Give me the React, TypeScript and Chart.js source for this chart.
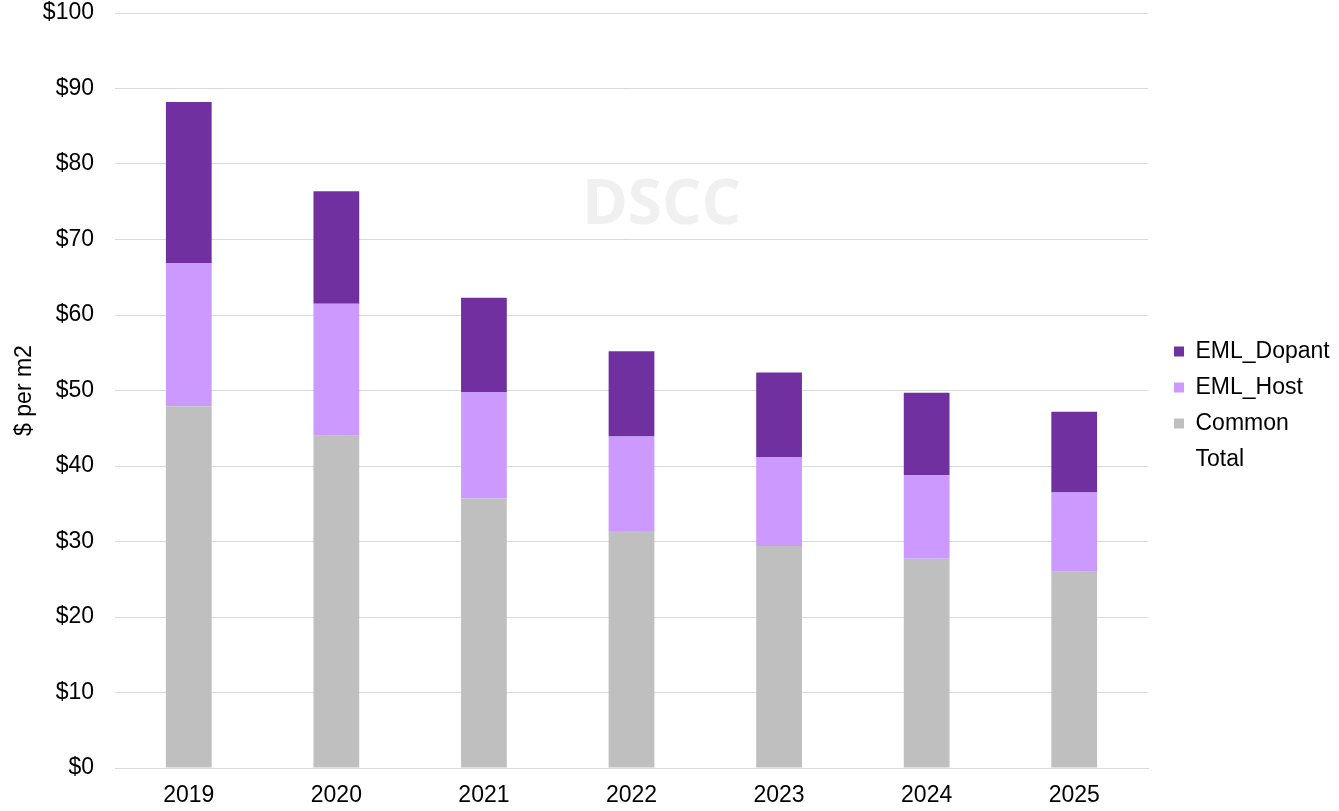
import React, { useEffect, useRef } from "react";
import { Chart, registerables } from "chart.js";

Chart.register(...registerables);

const years = ["2019", "2020", "2021", "2022", "2023", "2024", "2025"];
const common = [47.9, 44.0, 35.7, 31.4, 29.4, 27.7, 26.0];
const emlHost = [19.0, 17.5, 14.1, 12.5, 11.8, 11.1, 10.5];
const emlDopant = [21.3, 14.9, 12.5, 11.3, 11.2, 10.9, 10.7];
const total = [88.2, 76.4, 62.3, 55.2, 52.4, 49.7, 47.2];

const FONT = "'Liberation Sans', Arial, sans-serif";
const FS = 23;
const LEGEND_WIDTH = 191;
const LEGEND_SHIFT = 13;

const watermark = {
  id: "watermark",
  beforeDatasetsDraw(chart: any) {
    const { ctx, chartArea } = chart;
    ctx.save();
    ctx.font = "bold 62px 'Open Sans', 'Noto Sans', sans-serif";
    ctx.fillStyle = "#f0f0f0";
    ctx.textAlign = "center";
    ctx.textBaseline = "middle";
    ctx.fillText("DSCC", (chartArea.left + chartArea.right) / 2 + 30, 206);
    ctx.restore();
  },
};

const legendFit = {
  id: "legendFit",
  beforeLayout(chart: any) {
    const lg = chart.legend;
    if (lg && !lg.__patched) {
      const orig = lg.fit.bind(lg);
      lg.fit = function () {
        orig();
        this.width = LEGEND_WIDTH;
      };
      lg.__patched = true;
    }
  },
  afterLayout(chart: any) {
    const lg = chart.legend;
    if (lg) {
      lg.left += LEGEND_SHIFT;
      lg.right += LEGEND_SHIFT;
    }
  },
};

export default function App() {
  const ref = useRef<HTMLCanvasElement | null>(null);
  useEffect(() => {
    if (!ref.current) return;
    const order = ["EML_Dopant", "EML_Host", "Common", "Total"];
    const chart = new Chart(ref.current, {
      type: "bar",
      data: {
        labels: years,
        datasets: [
          { label: "Common", data: common, backgroundColor: "#bfbfbf", stack: "s" },
          { label: "EML_Host", data: emlHost, backgroundColor: "#cc99ff", stack: "s" },
          { label: "EML_Dopant", data: emlDopant, backgroundColor: "#7030a0", stack: "s" },
          {
            type: "line" as any,
            label: "Total",
            data: total,
            borderColor: "rgba(0,0,0,0)",
            backgroundColor: "rgba(0,0,0,0)",
            pointRadius: 0,
            showLine: false,
          } as any,
        ],
      },
      plugins: [watermark, legendFit],
      options: {
        responsive: false,
        animation: false,
        maintainAspectRatio: false,
        layout: { padding: { top: 0, right: 0, left: 10, bottom: 0 } },
        datasets: { bar: { barPercentage: 0.31, categoryPercentage: 1 } },
        plugins: {
          tooltip: { enabled: false },
          legend: {
            position: "right",
            align: "center",
            labels: {
              font: { family: FONT, size: FS },
              color: "#000",
              boxWidth: 10,
              boxHeight: 10,
              padding: 13,
              sort: (a: any, b: any) => order.indexOf(a.text) - order.indexOf(b.text),
              generateLabels: (c: any) => {
                const items = Chart.defaults.plugins.legend.labels.generateLabels(c);
                return items.map((it: any) => {
                  if (it.text === "Total") {
                    it.fillStyle = "rgba(0,0,0,0)";
                  }
                  it.strokeStyle = "rgba(0,0,0,0)";
                  it.lineWidth = 0;
                  return it;
                });
              },
            },
          },
        },
        scales: {
          x: {
            stacked: true,
            grid: { display: false, drawTicks: false },
            border: { display: true, color: "#d9d9d9" },
            ticks: { font: { family: FONT, size: FS }, color: "#000", padding: 14 },
            afterFit: (s: any) => {
              s.height = 43;
            },
          },
          y: {
            stacked: true,
            min: 0,
            max: 100,
            grid: { color: "#d9d9d9", drawTicks: false },
            border: { display: false },
            ticks: {
              stepSize: 10,
              font: { family: FONT, size: FS },
              color: "#000",
              padding: 21,
              callback: (v: any) => "$" + v,
            },
            title: {
              display: true,
              text: "$ per m2",
              font: { family: FONT, size: FS },
              color: "#000",
              padding: { top: 1, bottom: 4 },
            },
            afterFit: (s: any) => {
              s.width = 105;
              s.paddingTop = 13;
              s.paddingBottom = 0;
            },
          },
        },
      } as any,
    });
    return () => chart.destroy();
  }, []);
  return (
    <div style={{ position: "fixed", left: 0, top: 0, width: 1339, height: 811, background: "#fff" }}>
      <canvas ref={ref} width={1339} height={811} style={{ display: "block" }} />
    </div>
  );
}
